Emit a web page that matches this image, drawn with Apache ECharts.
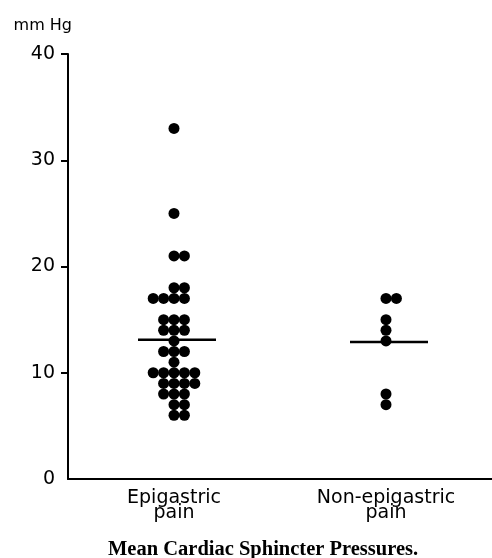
<!DOCTYPE html>
<html><head><meta charset="utf-8">
<script src="https://cdn.jsdelivr.net/npm/echarts@6/dist/echarts.min.js"></script>
<style>html,body{margin:0;background:#fff}#c{width:492px;height:558px}</style>
</head><body><div id="c"></div>
<script>
// ---- data ----
const categories = ['Epigastric\npain', 'Non-epigastric\npain'];
const epigastricValues = [33,25,21,21,18,18,17,17,17,17,15,15,15,14,14,14,13,12,12,12,11,10,10,10,10,10,9,9,9,9,8,8,8,7,7,6,6];
const nonEpigastricValues = [17,17,15,14,13,8,7];
const meanValues = [13.1, 12.9];
const yTickValues = [10, 20, 30, 40];
const yAxisName = 'mm Hg';
const chartTitle = 'Mean Cardiac Sphincter Pressures.';

// ---- layout (dot stacking) ----
const colSpacing = 10.4;
const rowStartOverride = {0: {17: -2}};
function swarm(values, catIndex) {
  const groups = {};
  const order = [];
  values.forEach(v => { if (!groups[v]) { groups[v] = []; order.push(v); } groups[v].push(v); });
  const out = [];
  order.forEach(k => {
    const n = groups[k].length;
    let start = n === 1 ? 0 : (n % 2 === 0 ? -(n / 2) + 1 : -(n - 1) / 2);
    const ov = rowStartOverride[catIndex];
    if (ov && ov[k] !== undefined) start = ov[k];
    groups[k].forEach((v, i) => out.push({ value: [catIndex, v], symbolOffset: [(start + i) * colSpacing, 0] }));
  });
  return out;
}

const chart = echarts.init(document.getElementById('c'), null, { renderer: 'canvas' });
const axisFont = 'DejaVu Sans';
const dotStyle = { color: '#000', opacity: 1 };
chart.setOption({
  animation: false,
  backgroundColor: '#fff',
  title: {
    text: chartTitle,
    left: 103, top: 534,
    textStyle: { fontFamily: 'Liberation Serif', fontSize: 20.5, fontWeight: 'bold', color: '#000' }
  },
  grid: { left: 68, right: 0, top: 54, bottom: 79 },
  xAxis: {
    type: 'category',
    data: categories,
    axisLine: { lineStyle: { color: '#000', width: 2 } },
    axisTick: { show: false },
    axisLabel: { color: '#000', fontFamily: axisFont, fontSize: 19, lineHeight: 15, margin: 12 }
  },
  yAxis: {
    type: 'value', min: 0, max: 40, interval: 10,
    name: yAxisName, nameLocation: 'end', nameGap: 20,
    nameTextStyle: { color: '#000', fontFamily: axisFont, fontSize: 16, align: 'right', padding: [0, -4, 0, 0] },
    splitLine: { show: false },
    axisLine: { show: true, lineStyle: { color: '#000', width: 2 } },
    axisTick: { show: true, inside: false, length: 7, lineStyle: { color: '#000', width: 2 }, customValues: yTickValues },
    axisLabel: { color: '#000', fontFamily: axisFont, fontSize: 19, margin: 13 }
  },
  series: [
    { type: 'scatter', symbol: 'circle', symbolSize: 11, itemStyle: dotStyle, data: swarm(epigastricValues, 0) },
    { type: 'scatter', symbol: 'circle', symbolSize: 11, itemStyle: dotStyle, data: swarm(nonEpigastricValues, 1) },
    { type: 'scatter', symbol: 'rect', symbolSize: [78, 2.5], symbolOffset: [3, 0], itemStyle: dotStyle, z: 3,
      data: meanValues.map((m, i) => [i, m]) }
  ]
});
</script></body></html>
